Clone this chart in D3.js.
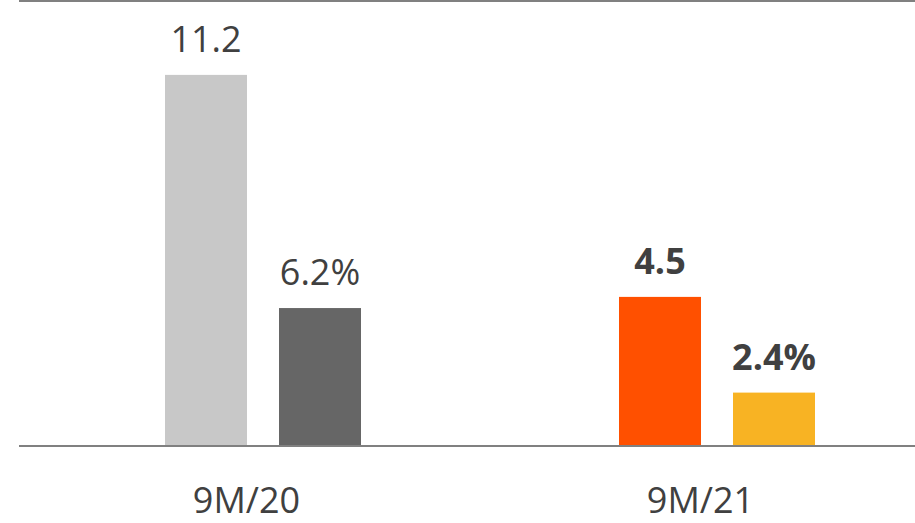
<!DOCTYPE html>
<html>
<head>
<meta charset="utf-8">
<script src="https://cdn.jsdelivr.net/npm/d3@7/dist/d3.min.js"></script>
<style>
  html, body { margin: 0; padding: 0; background: #fff; }
  svg { display: block; }
  text { font-family: "Open Sans", sans-serif; }
</style>
</head>
<body>
<svg id="chart" width="915" height="523"></svg>
<script>
const categories = ["9M/20", "9M/21"];
const seriesNames = ["value", "margin"];
const values = [11.2, 4.5];
const margins = [6.2, 2.4];
const valueLabels = ["11.2", "4.5"];
const marginLabels = ["6.2%", "2.4%"];

const W = 915, H = 523;
const baseY = 446, topY = 1;
const svg = d3.select("#chart");

const x = d3.scaleBand().domain(categories).range([19.5, 927.5]).padding(0);
const x1 = d3.scaleBand().domain(seriesNames).range([-81.5, 114.5]).paddingInner(32 / 114).paddingOuter(0);
const yVal = d3.scaleLinear().domain([0, 13.43]).range([baseY, topY]);
const yPct = d3.scaleLinear().domain([0, 20]).range([baseY, topY]);

const colors = {
  "9M/20": ["#C8C8C8", "#666666"],
  "9M/21": ["#FF5000", "#F8B323"]
};

// top gridline
svg.append("line")
  .attr("x1", 19).attr("x2", W)
  .attr("y1", yVal(13.43)).attr("y2", yVal(13.43))
  .attr("stroke", "#808080").attr("stroke-width", 2);

const rows = categories.map((c, i) => ({ c, i }));

rows.forEach(({ c, i }) => {
  const cx = x(c) + x.bandwidth() / 2;
  const bold = i === 1;
  const data = [
    { s: "value", v: values[i], y: yVal, lab: valueLabels[i], col: colors[c][0] },
    { s: "margin", v: margins[i], y: yPct, lab: marginLabels[i], col: colors[c][1] }
  ];
  data.forEach(d => {
    const bx = cx + x1(d.s);
    svg.append("rect")
      .attr("x", bx).attr("width", x1.bandwidth())
      .attr("y", d.y(d.v)).attr("height", baseY - d.y(d.v))
      .attr("fill", d.col);
    svg.append("text")
      .attr("x", bx + x1.bandwidth() / 2)
      .attr("y", d.y(d.v) - 23)
      .attr("text-anchor", "middle")
      .attr("font-size", 36)
      .attr("font-weight", bold ? 700 : 400)
      .attr("fill", "#404040")
      .text(d.lab);
  });
  svg.append("text")
    .attr("x", cx).attr("y", 513)
    .attr("text-anchor", "middle")
    .attr("font-size", 36)
    .attr("fill", "#404040")
    .text(c);
});

// baseline
svg.append("line")
  .attr("x1", 19).attr("x2", W)
  .attr("y1", baseY).attr("y2", baseY)
  .attr("stroke", "#808080").attr("stroke-width", 2);
</script>
</body>
</html>
